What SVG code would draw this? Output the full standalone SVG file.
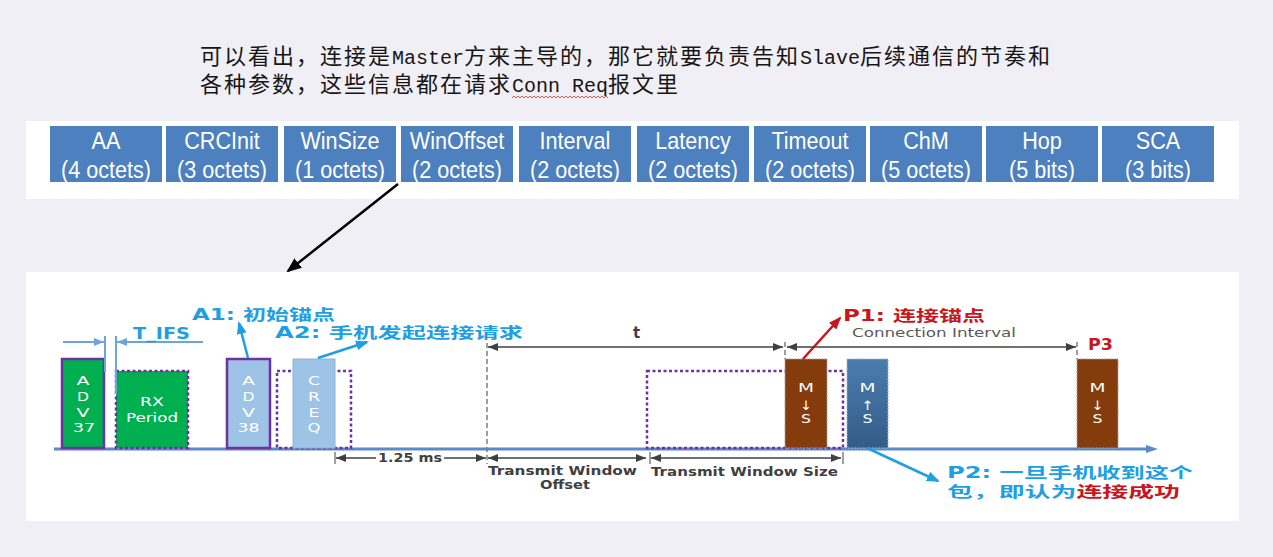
<svg xmlns="http://www.w3.org/2000/svg" width="1273" height="557" viewBox="0 0 1273 557">
<defs>
<style>
.title{font-family:"Noto Sans CJK SC","Liberation Serif",sans-serif;font-size:22px;letter-spacing:2px;fill:#161616}
.mono{font-family:"Liberation Mono",monospace;font-size:20px;letter-spacing:0}
.cell{fill:#4d80bf}
.ct{font-family:"Liberation Sans",Arial,sans-serif;font-size:24px;fill:#fff;text-anchor:middle}
.bx{font-family:"DejaVu Sans","Noto Sans CJK SC",sans-serif;font-size:13px;fill:#fff;text-anchor:middle}
.lbl{font-family:"DejaVu Sans","Noto Sans CJK SC",sans-serif;font-weight:bold;font-size:15px}
.blue{fill:#1e9fe3}
.red{fill:#c8161d}
.dimt{font-family:"DejaVu Sans",sans-serif;font-weight:bold;font-size:12px;fill:#404040}
.ci{font-family:"DejaVu Sans",sans-serif;font-size:12px;fill:#595959}
.dimline{stroke:#404040;stroke-width:1.5;fill:none}
.tick{stroke:#808080;stroke-width:1.5;fill:none}
.dashv{stroke:#7f7f7f;stroke-width:1.5;stroke-dasharray:5,3;fill:none}
.purpleSolid{stroke:#7030a0;stroke-width:2.5}
.purpleDot{fill:none;stroke:#7030a0;stroke-width:2.5;stroke-dasharray:3,2.5}
.green{fill:#00b050}
.lightblue{fill:#9dc3e6}
.brown{fill:#843c0c;stroke:#a0a0a0;stroke-width:1;stroke-dasharray:2,1}
.barrow{stroke:#1e9fe3;stroke-width:2.5;fill:none}
.tifs{stroke:#6fa3dc;stroke-width:2;fill:none}
</style>
<marker id="ahBlack" markerUnits="userSpaceOnUse" markerWidth="15" markerHeight="12" refX="13" refY="6" orient="auto"><path d="M0,0 L15,6 L0,12 z" fill="#000"/></marker>
<marker id="ahBlue" markerUnits="userSpaceOnUse" markerWidth="13" markerHeight="10" refX="11" refY="5" orient="auto"><path d="M0,0 L13,5 L0,10 z" fill="#1e9fe3"/></marker>
<marker id="ahRed" markerUnits="userSpaceOnUse" markerWidth="13" markerHeight="10" refX="11" refY="5" orient="auto"><path d="M0,0 L13,5 L0,10 z" fill="#c8161d"/></marker>
<marker id="ahDim" markerUnits="userSpaceOnUse" markerWidth="10" markerHeight="8" refX="10" refY="4" orient="auto-start-reverse"><path d="M0,0 L10,4 L0,8 z" fill="#404040"/></marker>
<marker id="ahTifs" markerUnits="userSpaceOnUse" markerWidth="10" markerHeight="8" refX="10" refY="4" orient="auto"><path d="M0,0 L10,4 L0,8 z" fill="#6fa3dc"/></marker>
<marker id="ahAxis" markerUnits="userSpaceOnUse" markerWidth="12" markerHeight="8" refX="0" refY="4" orient="auto"><path d="M0,0 L12,4 L0,8 z" fill="#5b8ac7"/></marker>
<linearGradient id="msUp" x1="0" y1="0" x2="0" y2="1"><stop offset="0" stop-color="#4a7db0"/><stop offset="1" stop-color="#335c87"/></linearGradient>
<pattern id="wavy" width="4" height="4" patternUnits="userSpaceOnUse" x="512" y="95"><path d="M0,3 L2,1 L4,3" fill="none" stroke="#e03030" stroke-width="0.8"/></pattern>
</defs>

<rect x="0" y="0" width="1273" height="557" fill="#f0eff5"/>

<g id="title">
<text x="200" y="64" class="title">可以看出，连接是<tspan class="mono">Master</tspan>方来主导的，那它就要负责告知<tspan class="mono">Slave</tspan>后续通信的节奏和</text>
<text x="200" y="92" class="title">各种参数，这些信息都在请求<tspan class="mono">Conn Req</tspan>报文里</text>
<rect x="512" y="95" width="96" height="4" fill="url(#wavy)"/>
</g>

<g id="packet-table">
<rect x="26" y="121" width="1213" height="78" fill="#ffffff"/>
<g id="cell-AA"><rect class="cell" x="50" y="126" width="112" height="56"/><text class="ct" transform="translate(106,149) scale(0.9,1)">AA</text><text class="ct" transform="translate(106,178) scale(0.9,1)">(4 octets)</text></g>
<g id="cell-CRCInit"><rect class="cell" x="166" y="126" width="112" height="56"/><text class="ct" transform="translate(222,149) scale(0.9,1)">CRCInit</text><text class="ct" transform="translate(222,178) scale(0.9,1)">(3 octets)</text></g>
<g id="cell-WinSize"><rect class="cell" x="284" y="126" width="112" height="56"/><text class="ct" transform="translate(340,149) scale(0.9,1)">WinSize</text><text class="ct" transform="translate(340,178) scale(0.9,1)">(1 octets)</text></g>
<g id="cell-WinOffset"><rect class="cell" x="401" y="126" width="112" height="56"/><text class="ct" transform="translate(457,149) scale(0.9,1)">WinOffset</text><text class="ct" transform="translate(457,178) scale(0.9,1)">(2 octets)</text></g>
<g id="cell-Interval"><rect class="cell" x="519" y="126" width="112" height="56"/><text class="ct" transform="translate(575,149) scale(0.9,1)">Interval</text><text class="ct" transform="translate(575,178) scale(0.9,1)">(2 octets)</text></g>
<g id="cell-Latency"><rect class="cell" x="637" y="126" width="112" height="56"/><text class="ct" transform="translate(693,149) scale(0.9,1)">Latency</text><text class="ct" transform="translate(693,178) scale(0.9,1)">(2 octets)</text></g>
<g id="cell-Timeout"><rect class="cell" x="754" y="126" width="112" height="56"/><text class="ct" transform="translate(810,149) scale(0.9,1)">Timeout</text><text class="ct" transform="translate(810,178) scale(0.9,1)">(2 octets)</text></g>
<g id="cell-ChM"><rect class="cell" x="870" y="126" width="112" height="56"/><text class="ct" transform="translate(926,149) scale(0.9,1)">ChM</text><text class="ct" transform="translate(926,178) scale(0.9,1)">(5 octets)</text></g>
<g id="cell-Hop"><rect class="cell" x="986" y="126" width="112" height="56"/><text class="ct" transform="translate(1042,149) scale(0.9,1)">Hop</text><text class="ct" transform="translate(1042,178) scale(0.9,1)">(5 bits)</text></g>
<g id="cell-SCA"><rect class="cell" x="1102" y="126" width="112" height="56"/><text class="ct" transform="translate(1158,149) scale(0.9,1)">SCA</text><text class="ct" transform="translate(1158,178) scale(0.9,1)">(3 bits)</text></g>
</g>

<rect id="timing-panel" x="26" y="272" width="1213" height="249" fill="#ffffff"/>

<g id="axis">
<line x1="54" y1="449" x2="1146" y2="449" stroke="#5b8ac7" stroke-width="3" marker-end="url(#ahAxis)"/>
</g>

<g id="node-ADV37">
<rect class="green purpleSolid" x="62" y="359" width="42" height="89"/>
<text class="bx" x="83" y="385" textLength="13" lengthAdjust="spacingAndGlyphs">A</text>
<text class="bx" x="83" y="401" textLength="12" lengthAdjust="spacingAndGlyphs">D</text>
<text class="bx" x="83" y="417" textLength="13" lengthAdjust="spacingAndGlyphs">V</text>
<text class="bx" x="84" y="432" textLength="22" lengthAdjust="spacingAndGlyphs">37</text>
</g>

<g id="node-RXPeriod">
<rect class="green" x="116" y="371" width="72" height="77"/>
<rect class="purpleDot" x="116" y="371" width="72" height="77"/>
<text class="bx" x="152" y="406" textLength="24" lengthAdjust="spacingAndGlyphs">RX</text>
<text class="bx" x="152" y="422" textLength="52" lengthAdjust="spacingAndGlyphs">Period</text>
</g>

<g id="node-TIFS">
<line class="tifs" x1="105" y1="336" x2="105" y2="372"/>
<line class="tifs" x1="116" y1="336" x2="116" y2="394"/>
<line class="tifs" x1="63" y1="342" x2="104" y2="342" marker-end="url(#ahTifs)"/>
<line class="tifs" x1="203" y1="342" x2="117" y2="342" marker-end="url(#ahTifs)"/>
<text class="lbl blue" x="133" y="339" font-size="14" textLength="57" lengthAdjust="spacingAndGlyphs">T_IFS</text>
</g>

<g id="node-ADV38">
<rect class="lightblue purpleSolid" x="227" y="359" width="43" height="89"/>
<text class="bx" x="248.5" y="385" textLength="13" lengthAdjust="spacingAndGlyphs">A</text>
<text class="bx" x="248.5" y="401" textLength="12" lengthAdjust="spacingAndGlyphs">D</text>
<text class="bx" x="248.5" y="417" textLength="13" lengthAdjust="spacingAndGlyphs">V</text>
<text class="bx" x="248.5" y="432" textLength="22" lengthAdjust="spacingAndGlyphs">38</text>
</g>

<g id="node-CREQ">
<rect class="purpleDot" x="277" y="371" width="74" height="77"/>
<rect x="293" y="359" width="42" height="89" fill="#9dc3e6" stroke="#8fb0d2" stroke-width="1"/>
<text class="bx" x="314" y="385" textLength="12" lengthAdjust="spacingAndGlyphs">C</text>
<text class="bx" x="314" y="401" textLength="12" lengthAdjust="spacingAndGlyphs">R</text>
<text class="bx" x="314" y="417" textLength="11" lengthAdjust="spacingAndGlyphs">E</text>
<text class="bx" x="314" y="432" textLength="13" lengthAdjust="spacingAndGlyphs">Q</text>
</g>

<g id="node-TransmitWindow">
<rect class="purpleDot" x="647" y="371" width="196" height="77"/>
</g>

<g id="node-MS-P1">
<rect class="brown" x="785" y="359" width="42" height="89"/>
<text class="bx" x="806" y="392" textLength="16" lengthAdjust="spacingAndGlyphs">M</text>
<text class="bx" x="806" y="410" textLength="12" lengthAdjust="spacingAndGlyphs">↓</text>
<text class="bx" x="806" y="423" textLength="10" lengthAdjust="spacingAndGlyphs">S</text>
</g>

<g id="node-MS-P2">
<rect x="847" y="359" width="41" height="89" fill="url(#msUp)" stroke="#9fb4cc" stroke-width="1" stroke-dasharray="2,1"/>
<text class="bx" x="867.5" y="392" textLength="16" lengthAdjust="spacingAndGlyphs">M</text>
<text class="bx" x="867.5" y="410" textLength="12" lengthAdjust="spacingAndGlyphs">↑</text>
<text class="bx" x="867.5" y="423" textLength="10" lengthAdjust="spacingAndGlyphs">S</text>
</g>

<g id="node-MS-P3">
<rect class="brown" x="1077" y="359" width="41" height="89"/>
<text class="bx" x="1097.5" y="392" textLength="16" lengthAdjust="spacingAndGlyphs">M</text>
<text class="bx" x="1097.5" y="410" textLength="12" lengthAdjust="spacingAndGlyphs">↓</text>
<text class="bx" x="1097.5" y="423" textLength="10" lengthAdjust="spacingAndGlyphs">S</text>
</g>

<g id="label-A1"><text class="lbl blue" x="192" y="320" textLength="143" lengthAdjust="spacingAndGlyphs">A1: 初始锚点</text></g>
<g id="label-A2"><text class="lbl blue" x="275" y="338" textLength="248" lengthAdjust="spacingAndGlyphs">A2: 手机发起连接请求</text></g>
<g id="label-P1"><text class="lbl red" x="843" y="321" textLength="142" lengthAdjust="spacingAndGlyphs">P1: 连接锚点</text></g>
<g id="label-P3"><text class="lbl red" x="1088" y="350" font-size="14" textLength="25" lengthAdjust="spacingAndGlyphs">P3</text></g>
<g id="label-P2">
<text class="lbl blue" x="947" y="478" textLength="246" lengthAdjust="spacingAndGlyphs">P2: 一旦手机收到这个</text>
<text class="lbl blue" x="947" y="497" textLength="233" lengthAdjust="spacingAndGlyphs">包，即认为<tspan class="red">连接成功</tspan></text>
</g>

<g id="dimension-labels">
<text class="lbl" x="633" y="338" font-size="14" fill="#404040">t</text>
<text class="ci" x="852" y="337" textLength="164" lengthAdjust="spacingAndGlyphs">Connection Interval</text>
<text class="dimt" x="378" y="462" textLength="64" lengthAdjust="spacingAndGlyphs">1.25 ms</text>
<text class="dimt" x="488" y="475" textLength="149" lengthAdjust="spacingAndGlyphs">Transmit Window</text>
<text class="dimt" x="540" y="489" textLength="50" lengthAdjust="spacingAndGlyphs">Offset</text>
<text class="dimt" x="651" y="476" textLength="187" lengthAdjust="spacingAndGlyphs">Transmit Window Size</text>
</g>

<g id="connectors">
<line x1="398" y1="184" x2="288" y2="271" stroke="#000" stroke-width="2.5" marker-end="url(#ahBlack)"/>
<line class="barrow" x1="248" y1="358" x2="239" y2="323" marker-end="url(#ahBlue)"/>
<line class="barrow" x1="318" y1="358" x2="367" y2="342" marker-end="url(#ahBlue)"/>
<line x1="803" y1="359" x2="840" y2="318" stroke="#c8161d" stroke-width="2.5" marker-end="url(#ahRed)"/>
<line class="barrow" x1="867" y1="448" x2="938" y2="481" marker-end="url(#ahBlue)"/>
<line class="dashv" x1="487" y1="343" x2="487" y2="464"/>
<line class="dashv" x1="785" y1="342" x2="785" y2="359"/>
<line class="dashv" x1="1077" y1="342" x2="1077" y2="359"/>
<line class="dimline" x1="488" y1="347" x2="783" y2="347" marker-start="url(#ahDim)" marker-end="url(#ahDim)"/>
<line class="dimline" x1="787" y1="347" x2="1076" y2="347" marker-start="url(#ahDim)" marker-end="url(#ahDim)"/>
<line class="tick" x1="335" y1="452" x2="335" y2="464"/>
<line class="tick" x1="650" y1="452" x2="650" y2="464"/>
<line class="tick" x1="843" y1="452" x2="843" y2="464"/>
<line class="dimline" x1="336" y1="458" x2="376" y2="458" marker-start="url(#ahDim)"/>
<line class="dimline" x1="444" y1="458" x2="486" y2="458" marker-end="url(#ahDim)"/>
<line class="dimline" x1="488" y1="458" x2="646" y2="458" marker-start="url(#ahDim)" marker-end="url(#ahDim)"/>
<line class="dimline" x1="651" y1="458" x2="841" y2="458" marker-start="url(#ahDim)" marker-end="url(#ahDim)"/>
</g>
</svg>
